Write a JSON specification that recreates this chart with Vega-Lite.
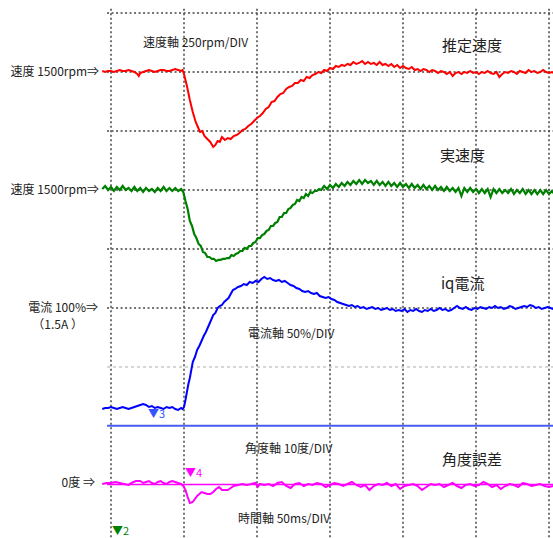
{
  "$schema": "https://vega.github.io/schema/vega-lite/v6.json",
  "width": 553,
  "height": 538,
  "autosize": {"type": "none"},
  "padding": 0,
  "background": "white",
  "config": {"view": {"stroke": null}, "font": "Noto Sans CJK JP"},
  "datasets": {
    "gridT": [{"t":0},{"t":50},{"t":100},{"t":150},{"t":200},{"t":250},{"t":300}],
    "gridV": [{"v":9},{"v":8},{"v":7},{"v":6},{"v":5},{"v":4}],
    "red": [
      {"t":-6,"v":8.017},{"t":-4,"v":8.000},{"t":-2,"v":8.017},{"t":0,"v":8.017},{"t":2,"v":8.000},{"t":4,"v":8.017},{"t":6,"v":8.034},{"t":8,"v":8.017},{"t":10,"v":8.017},{"t":12,"v":8.034},{"t":14,"v":8.017},{"t":16,"v":8.000},{"t":18,"v":7.966},{"t":19,"v":7.932},{"t":20,"v":7.983},{"t":22,"v":8.000},{"t":24,"v":8.017},{"t":26,"v":8.034},{"t":28,"v":8.017},{"t":30,"v":8.000},{"t":32,"v":8.017},{"t":34,"v":8.034},{"t":36,"v":8.034},{"t":38,"v":8.017},{"t":40,"v":8.017},{"t":42,"v":8.034},{"t":44,"v":8.051},{"t":46,"v":8.034},{"t":48,"v":8.017},{"t":49,"v":8.034},
      {"t":50,"v":7.966},{"t":52,"v":7.763},{"t":54,"v":7.525},{"t":56,"v":7.322},{"t":58,"v":7.153},{"t":59.5,"v":7.068},{"t":61,"v":6.983},{"t":62.5,"v":7.000},{"t":64,"v":6.915},{"t":66,"v":6.864},{"t":68,"v":6.814},{"t":70,"v":6.729},{"t":71.5,"v":6.763},{"t":73,"v":6.831},{"t":74.5,"v":6.814},{"t":76,"v":6.898},{"t":78,"v":6.847},{"t":80,"v":6.881},{"t":82,"v":6.864},{"t":84,"v":6.915},{"t":86,"v":6.932},{"t":88,"v":6.966},{"t":90,"v":7.017},{"t":92,"v":7.034},{"t":94,"v":7.085},{"t":96,"v":7.119},{"t":98,"v":7.169},{"t":100,"v":7.220},{"t":102,"v":7.254},{"t":104,"v":7.305},{"t":106,"v":7.373},{"t":108,"v":7.407},{"t":110,"v":7.492},{"t":112,"v":7.508},{"t":114,"v":7.576},{"t":116,"v":7.627},{"t":118,"v":7.644},{"t":120,"v":7.712},{"t":122,"v":7.746},{"t":124,"v":7.763},{"t":126,"v":7.814},{"t":128,"v":7.814},{"t":130,"v":7.864},{"t":132,"v":7.847},{"t":134,"v":7.915},{"t":136,"v":7.898},{"t":138,"v":7.949},{"t":140,"v":7.966},{"t":142,"v":8.000},{"t":144,"v":7.983},{"t":146,"v":8.034},{"t":148,"v":8.017},{"t":150,"v":8.068},{"t":152,"v":8.051},{"t":154,"v":8.102},{"t":156,"v":8.085},{"t":158,"v":8.119},{"t":160,"v":8.102},{"t":162,"v":8.136},{"t":164,"v":8.119},{"t":166,"v":8.169},{"t":168,"v":8.136},{"t":170,"v":8.153},{"t":172,"v":8.186},{"t":174,"v":8.136},{"t":176,"v":8.169},{"t":178,"v":8.136},{"t":180,"v":8.153},{"t":182,"v":8.119},{"t":184,"v":8.169},{"t":186,"v":8.119},{"t":188,"v":8.136},{"t":190,"v":8.102},{"t":192,"v":8.136},{"t":194,"v":8.085},{"t":196,"v":8.119},{"t":198,"v":8.068},{"t":200,"v":8.102},{"t":202,"v":8.068},{"t":204,"v":8.051},{"t":206,"v":8.085},{"t":208,"v":8.034},{"t":210,"v":8.051},{"t":212,"v":8.017},{"t":214,"v":8.051},{"t":216,"v":8.034},{"t":218,"v":8.000},{"t":220,"v":8.034},{"t":222,"v":8.017},{"t":224,"v":7.983},{"t":226,"v":8.017},{"t":228,"v":8.000},{"t":230,"v":7.966},{"t":232,"v":8.000},{"t":234,"v":7.932},{"t":236,"v":7.983},{"t":238,"v":8.000},{"t":240,"v":7.966},{"t":242,"v":8.000},{"t":244,"v":7.983},{"t":246,"v":8.017},{"t":248,"v":7.983},{"t":250,"v":8.000},{"t":252,"v":7.966},{"t":254,"v":8.000},{"t":256,"v":7.983},{"t":258,"v":8.017},{"t":260,"v":7.983},{"t":262,"v":7.966},{"t":264,"v":8.000},{"t":266,"v":7.915},{"t":268,"v":7.966},{"t":270,"v":8.000},{"t":272,"v":7.983},{"t":274,"v":8.017},{"t":276,"v":8.000},{"t":278,"v":7.966},{"t":280,"v":8.017},{"t":282,"v":8.000},{"t":284,"v":7.983},{"t":286,"v":8.034},{"t":288,"v":8.000},{"t":290,"v":8.017},{"t":292,"v":7.983},{"t":294,"v":8.000},{"t":296,"v":8.034},{"t":298,"v":8.000},{"t":300,"v":7.983},{"t":302,"v":8.000},{"t":303,"v":7.983}
    ],
    "green": [
      {"t":-6,"v":6.017},{"t":-4,"v":6.068},{"t":-2,"v":6.000},{"t":0,"v":6.051},{"t":2,"v":5.983},{"t":4,"v":6.051},{"t":6,"v":6.000},{"t":8,"v":6.068},{"t":10,"v":6.000},{"t":12,"v":6.034},{"t":14,"v":5.983},{"t":16,"v":6.051},{"t":18,"v":5.983},{"t":20,"v":6.034},{"t":22,"v":5.966},{"t":24,"v":6.034},{"t":26,"v":5.983},{"t":28,"v":6.017},{"t":30,"v":5.966},{"t":32,"v":6.034},{"t":34,"v":5.983},{"t":36,"v":6.051},{"t":38,"v":5.983},{"t":40,"v":6.034},{"t":42,"v":5.983},{"t":44,"v":6.034},{"t":46,"v":5.983},{"t":48,"v":6.017},{"t":49,"v":5.983},
      {"t":49.5,"v":5.966},{"t":51,"v":5.814},{"t":52.5,"v":5.678},{"t":54,"v":5.475},{"t":55.5,"v":5.390},{"t":57,"v":5.254},{"t":58.5,"v":5.186},{"t":60,"v":5.085},{"t":61.5,"v":5.051},{"t":63,"v":4.949},{"t":64.5,"v":4.932},{"t":66,"v":4.864},{"t":67.5,"v":4.864},{"t":69,"v":4.831},{"t":70.5,"v":4.831},{"t":72,"v":4.797},{"t":73.5,"v":4.814},{"t":75,"v":4.814},{"t":76.5,"v":4.831},{"t":78,"v":4.831},{"t":79.5,"v":4.847},{"t":81,"v":4.847},{"t":82.5,"v":4.898},{"t":84,"v":4.881},{"t":85.5,"v":4.915},{"t":87,"v":4.932},{"t":88.5,"v":4.966},{"t":90,"v":4.966},{"t":91.5,"v":5.017},{"t":93,"v":5.000},{"t":94.5,"v":5.051},{"t":96,"v":5.051},{"t":97.5,"v":5.102},{"t":99,"v":5.119},{"t":100.5,"v":5.186},{"t":102,"v":5.186},{"t":103.5,"v":5.237},{"t":105,"v":5.254},{"t":106.5,"v":5.305},{"t":108,"v":5.322},{"t":109.5,"v":5.390},{"t":111,"v":5.390},{"t":112.5,"v":5.441},{"t":114,"v":5.458},{"t":115.5,"v":5.542},{"t":117,"v":5.542},{"t":118.5,"v":5.610},{"t":120,"v":5.610},{"t":121.5,"v":5.678},{"t":123,"v":5.695},{"t":124.5,"v":5.746},{"t":126,"v":5.763},{"t":127.5,"v":5.831},{"t":129,"v":5.814},{"t":130.5,"v":5.881},{"t":132,"v":5.864},{"t":133.5,"v":5.932},{"t":135,"v":5.898},{"t":136.5,"v":5.966},{"t":138,"v":5.949},{"t":139.5,"v":5.983},{"t":141,"v":5.983},{"t":142.5,"v":6.017},{"t":144,"v":6.000},
      {"t":146,"v":6.068},{"t":148,"v":6.017},{"t":150,"v":6.085},{"t":152,"v":6.034},{"t":154,"v":6.102},{"t":156,"v":6.051},{"t":158,"v":6.119},{"t":160,"v":6.068},{"t":162,"v":6.136},{"t":164,"v":6.085},{"t":166,"v":6.153},{"t":168,"v":6.102},{"t":170,"v":6.169},{"t":172,"v":6.102},{"t":174,"v":6.169},{"t":176,"v":6.119},{"t":178,"v":6.153},{"t":180,"v":6.085},{"t":182,"v":6.153},{"t":184,"v":6.085},{"t":186,"v":6.136},{"t":188,"v":6.068},{"t":190,"v":6.136},{"t":192,"v":6.068},{"t":194,"v":6.119},{"t":196,"v":6.051},{"t":198,"v":6.119},{"t":200,"v":6.051},{"t":202,"v":6.102},{"t":204,"v":6.034},{"t":206,"v":6.102},{"t":208,"v":6.034},{"t":210,"v":6.085},{"t":212,"v":6.017},{"t":214,"v":6.085},{"t":216,"v":6.017},{"t":218,"v":6.068},{"t":220,"v":6.000},{"t":222,"v":6.068},{"t":224,"v":6.000},{"t":226,"v":6.051},{"t":228,"v":5.983},{"t":230,"v":6.051},{"t":232,"v":5.983},{"t":234,"v":6.034},{"t":236,"v":5.966},{"t":238,"v":6.034},{"t":240,"v":5.898},{"t":242,"v":6.034},{"t":244,"v":5.966},{"t":246,"v":6.034},{"t":248,"v":5.966},{"t":250,"v":6.017},{"t":252,"v":5.949},{"t":254,"v":6.017},{"t":256,"v":5.949},{"t":258,"v":6.017},{"t":260,"v":5.881},{"t":262,"v":6.017},{"t":264,"v":5.949},{"t":266,"v":6.017},{"t":268,"v":5.949},{"t":270,"v":6.000},{"t":272,"v":5.949},{"t":274,"v":6.017},{"t":276,"v":5.932},{"t":278,"v":6.000},{"t":280,"v":5.949},{"t":282,"v":6.017},{"t":284,"v":5.932},{"t":286,"v":6.000},{"t":288,"v":5.932},{"t":290,"v":6.000},{"t":292,"v":5.932},{"t":294,"v":6.000},{"t":296,"v":5.932},{"t":298,"v":6.000},{"t":300,"v":5.932},{"t":302,"v":5.983},{"t":303,"v":5.949}
    ],
    "blue": [
      {"t":-6,"v":2.288},{"t":-4,"v":2.305},{"t":-2,"v":2.305},{"t":0,"v":2.322},{"t":2,"v":2.305},{"t":4,"v":2.288},{"t":6,"v":2.305},{"t":8,"v":2.322},{"t":10,"v":2.305},{"t":12,"v":2.288},{"t":14,"v":2.305},{"t":16,"v":2.322},{"t":18,"v":2.339},{"t":20,"v":2.356},{"t":22,"v":2.373},{"t":24,"v":2.356},{"t":26,"v":2.322},{"t":28,"v":2.339},{"t":30,"v":2.305},{"t":32,"v":2.322},{"t":34,"v":2.305},{"t":36,"v":2.288},{"t":38,"v":2.322},{"t":40,"v":2.305},{"t":42,"v":2.322},{"t":44,"v":2.288},{"t":46,"v":2.271},{"t":48,"v":2.305},{"t":49,"v":2.288},
      {"t":50,"v":2.322},{"t":51,"v":2.441},{"t":52,"v":2.576},{"t":53,"v":2.712},{"t":54,"v":2.814},{"t":55,"v":2.949},{"t":56,"v":3.085},{"t":57.5,"v":3.169},{"t":59,"v":3.288},{"t":60.5,"v":3.356},{"t":62,"v":3.441},{"t":63.5,"v":3.525},{"t":65,"v":3.593},{"t":66.5,"v":3.678},{"t":68,"v":3.763},{"t":70,"v":3.881},{"t":71.5,"v":3.915},{"t":73,"v":4.000},{"t":74.5,"v":4.034},{"t":76,"v":4.051},{"t":77.5,"v":4.102},{"t":79,"v":4.136},{"t":80.5,"v":4.169},{"t":82,"v":4.237},{"t":83.5,"v":4.305},{"t":85,"v":4.322},{"t":87,"v":4.356},{"t":89,"v":4.373},{"t":91,"v":4.407},{"t":93,"v":4.390},{"t":95,"v":4.441},{"t":97,"v":4.424},{"t":99,"v":4.458},{"t":101,"v":4.441},{"t":103,"v":4.492},{"t":105,"v":4.525},{"t":107,"v":4.492},{"t":109,"v":4.508},{"t":111,"v":4.475},{"t":113,"v":4.458},{"t":115,"v":4.475},{"t":117,"v":4.441},{"t":119,"v":4.458},{"t":121,"v":4.424},{"t":123,"v":4.390},{"t":125,"v":4.373},{"t":127,"v":4.339},{"t":129,"v":4.322},{"t":131,"v":4.288},{"t":133,"v":4.271},{"t":135,"v":4.288},{"t":137,"v":4.254},{"t":139,"v":4.237},{"t":141,"v":4.254},{"t":143,"v":4.203},{"t":145,"v":4.186},{"t":147,"v":4.169},{"t":149,"v":4.186},{"t":151,"v":4.153},{"t":153,"v":4.136},{"t":155,"v":4.102},{"t":157,"v":4.085},{"t":159,"v":4.068},{"t":161,"v":4.051},{"t":163,"v":4.034},{"t":165,"v":4.051},{"t":167,"v":4.017},{"t":169,"v":4.034},{"t":171,"v":4.000},{"t":173,"v":4.017},{"t":175,"v":3.983},{"t":177,"v":4.000},{"t":179,"v":4.017},{"t":181,"v":3.983},{"t":183,"v":4.000},{"t":185,"v":3.966},{"t":187,"v":3.983},{"t":189,"v":4.000},{"t":191,"v":3.966},{"t":193,"v":3.983},{"t":195,"v":3.949},{"t":197,"v":3.966},{"t":199,"v":3.949},{"t":201,"v":3.983},{"t":203,"v":3.932},{"t":205,"v":3.966},{"t":207,"v":3.949},{"t":209,"v":3.983},{"t":211,"v":3.949},{"t":213,"v":3.932},{"t":215,"v":3.966},{"t":217,"v":3.949},{"t":219,"v":3.983},{"t":221,"v":3.949},{"t":223,"v":3.966},{"t":225,"v":4.000},{"t":227,"v":3.966},{"t":229,"v":3.983},{"t":231,"v":3.949},{"t":233,"v":3.966},{"t":235,"v":4.000},{"t":237,"v":4.034},{"t":239,"v":4.000},{"t":241,"v":3.983},{"t":243,"v":4.017},{"t":245,"v":3.983},{"t":247,"v":3.966},{"t":249,"v":4.000},{"t":251,"v":3.983},{"t":253,"v":4.017},{"t":255,"v":4.000},{"t":257,"v":3.983},{"t":259,"v":4.017},{"t":261,"v":4.000},{"t":263,"v":4.034},{"t":265,"v":4.000},{"t":267,"v":4.017},{"t":269,"v":3.983},{"t":271,"v":4.000},{"t":273,"v":4.034},{"t":275,"v":4.017},{"t":277,"v":3.983},{"t":279,"v":4.000},{"t":281,"v":4.017},{"t":283,"v":4.034},{"t":285,"v":4.017},{"t":287,"v":4.051},{"t":289,"v":4.034},{"t":291,"v":4.000},{"t":293,"v":4.017},{"t":295,"v":3.983},{"t":297,"v":4.000},{"t":299,"v":4.017},{"t":301,"v":4.000},{"t":303,"v":3.983}
    ],
    "magenta": [
      {"t":-6,"v":1.017},{"t":-3,"v":1.034},{"t":0,"v":1.034},{"t":3,"v":1.051},{"t":6,"v":1.034},{"t":9,"v":1.017},{"t":12,"v":1.000},{"t":14,"v":1.034},{"t":17,"v":1.068},{"t":20,"v":1.068},{"t":22,"v":1.034},{"t":24,"v":1.051},{"t":26,"v":1.068},{"t":28,"v":1.034},{"t":30,"v":1.017},{"t":32,"v":1.051},{"t":34,"v":1.068},{"t":36,"v":1.034},{"t":38,"v":1.017},{"t":40,"v":1.051},{"t":42,"v":1.068},{"t":44,"v":1.051},{"t":46,"v":1.034},{"t":48,"v":1.017},
      {"t":49.5,"v":0.983},{"t":51,"v":0.915},{"t":52.5,"v":0.797},{"t":54,"v":0.695},{"t":56,"v":0.712},{"t":59,"v":0.814},{"t":62,"v":0.881},{"t":64,"v":0.864},{"t":66,"v":0.847},{"t":68,"v":0.847},{"t":70,"v":0.881},{"t":72,"v":0.932},{"t":74,"v":0.966},{"t":76,"v":0.915},{"t":78,"v":0.915},{"t":80,"v":0.915},{"t":82,"v":0.949},{"t":84,"v":0.983},{"t":87,"v":1.000},{"t":90,"v":1.017},{"t":93,"v":1.000},{"t":96,"v":1.017},{"t":99,"v":1.034},{"t":100.5,"v":0.966},{"t":102,"v":1.017},{"t":105,"v":1.000},{"t":108,"v":1.017},{"t":111,"v":0.983},{"t":114,"v":1.034},{"t":117,"v":1.051},{"t":120,"v":0.983},{"t":123,"v":0.949},{"t":126,"v":1.017},{"t":129,"v":1.034},{"t":132,"v":0.983},{"t":135,"v":1.017},{"t":138,"v":1.000},{"t":141,"v":1.034},{"t":144,"v":1.017},{"t":147,"v":0.966},{"t":150,"v":1.000},{"t":153,"v":1.034},{"t":156,"v":1.017},{"t":159,"v":0.983},{"t":162,"v":1.017},{"t":165,"v":1.051},{"t":168,"v":1.000},{"t":171,"v":0.966},{"t":174,"v":1.000},{"t":177,"v":0.915},{"t":180,"v":0.983},{"t":183,"v":1.017},{"t":186,"v":1.000},{"t":189,"v":1.034},{"t":192,"v":0.983},{"t":195,"v":1.017},{"t":198,"v":0.932},{"t":201,"v":0.983},{"t":204,"v":1.000},{"t":207,"v":1.017},{"t":210,"v":0.983},{"t":213,"v":0.915},{"t":216,"v":0.966},{"t":219,"v":1.017},{"t":222,"v":1.000},{"t":225,"v":1.017},{"t":228,"v":0.966},{"t":231,"v":1.000},{"t":234,"v":1.034},{"t":237,"v":0.983},{"t":240,"v":0.949},{"t":243,"v":1.000},{"t":246,"v":1.017},{"t":249,"v":0.983},{"t":252,"v":1.000},{"t":255,"v":1.051},{"t":258,"v":1.017},{"t":261,"v":0.966},{"t":264,"v":1.000},{"t":267,"v":0.932},{"t":270,"v":0.983},{"t":273,"v":1.017},{"t":276,"v":1.000},{"t":279,"v":0.966},{"t":282,"v":1.034},{"t":285,"v":1.017},{"t":288,"v":0.983},{"t":291,"v":1.000},{"t":294,"v":1.017},{"t":297,"v":0.983},{"t":300,"v":0.966},{"t":303,"v":0.983}
    ],
    "leftLabels": [
      {"t":-8.2,"v":8,"text":"速度 1500rpm⇒"},
      {"t":-8.2,"v":6,"text":"速度 1500rpm⇒"},
      {"t":-8.9,"v":4,"text":"電流 100%⇒"},
      {"t":-19.2,"v":3.712,"text":"（1.5A ）"},
      {"t":-11,"v":1.034,"text":"0度 ⇒"}
    ],
    "scaleLabels": [
      {"t":21.9,"v":8.492,"text":"速度軸 250rpm/DIV"},
      {"t":93.8,"v":3.559,"text":"電流軸 50%/DIV"},
      {"t":91.8,"v":1.610,"text":"角度軸 10度/DIV"},
      {"t":87,"v":0.424,"text":"時間軸 50ms/DIV"}
    ],
    "names": [
      {"t":226.7,"v":8.441,"text":"推定速度"},
      {"t":225.3,"v":6.576,"text":"実速度"},
      {"t":226,"v":4.407,"text":"iq電流"},
      {"t":226.7,"v":1.424,"text":"角度誤差"}
    ],
    "markers": [
      {"t":25.3,"v":2.186,"text":"▼3","s":"iq電流"},
      {"t":50.7,"v":1.186,"text":"▼4","s":"角度誤差"},
      {"t":0.7,"v":0.2,"text":"▼2","s":"実速度"}
    ]
  },
  "layer": [
    {
      "data": {"name": "gridT"},
      "mark": {"type": "rule", "color": "#444", "strokeWidth": 1.5, "strokeDash": [2, 2.5]},
      "encoding": {
        "x": {"field": "t", "type": "quantitative", "scale": {"domain": [-76.03, 302.74], "nice": false, "zero": false}, "axis": null},
        "y": {"datum": 9.07, "type": "quantitative", "scale": {"domain": [0.1017, 9.2203], "nice": false, "zero": false}, "axis": null},
        "y2": {"datum": 0.1017}
      }
    },
    {
      "data": {"name": "gridV"},
      "mark": {"type": "rule", "color": "#444", "strokeWidth": 1.5, "strokeDash": [2, 2.5]},
      "encoding": {
        "y": {"field": "v", "type": "quantitative", "scale": {"domain": [0.1017, 9.2203], "nice": false, "zero": false}, "axis": null},
        "x": {"datum": -2.7, "type": "quantitative", "scale": {"domain": [-76.03, 302.74], "nice": false, "zero": false}, "axis": null},
        "x2": {"datum": 302.74}
      }
    },
    {
      "data": {"values": [{"v": 3}]},
      "mark": {"type": "rule", "color": "#aaaaaa", "strokeWidth": 1, "strokeDash": [3, 3]},
      "encoding": {
        "y": {"field": "v", "type": "quantitative", "scale": {"domain": [0.1017, 9.2203], "nice": false, "zero": false}, "axis": null},
        "x": {"datum": -2.7, "type": "quantitative", "scale": {"domain": [-76.03, 302.74], "nice": false, "zero": false}, "axis": null},
        "x2": {"datum": 302.74}
      }
    },
    {
      "data": {"values": [{"v": 2.005}]},
      "mark": {"type": "rule", "color": "#4a5cf0", "strokeWidth": 2},
      "encoding": {
        "y": {"field": "v", "type": "quantitative", "scale": {"domain": [0.1017, 9.2203], "nice": false, "zero": false}, "axis": null},
        "x": {"datum": -2.7, "type": "quantitative", "scale": {"domain": [-76.03, 302.74], "nice": false, "zero": false}, "axis": null},
        "x2": {"datum": 302.74}
      }
    },
    {
      "data": {"values": [{"v": 1.01}]},
      "mark": {"type": "rule", "color": "#ff00ff", "strokeWidth": 1.5},
      "encoding": {
        "y": {"field": "v", "type": "quantitative", "scale": {"domain": [0.1017, 9.2203], "nice": false, "zero": false}, "axis": null},
        "x": {"datum": -2.7, "type": "quantitative", "scale": {"domain": [-76.03, 302.74], "nice": false, "zero": false}, "axis": null},
        "x2": {"datum": 302.74}
      }
    },
    {
      "data": {"name": "red"},
      "mark": {"type": "line", "color": "#ff0000", "strokeWidth": 2, "clip": true},
      "encoding": {
        "x": {"field": "t", "type": "quantitative", "scale": {"domain": [-76.03, 302.74], "nice": false, "zero": false}, "axis": null},
        "y": {"field": "v", "type": "quantitative", "scale": {"domain": [0.1017, 9.2203], "nice": false, "zero": false}, "axis": null}
      }
    },
    {
      "data": {"name": "green"},
      "mark": {"type": "line", "color": "#008000", "strokeWidth": 2.2, "clip": true},
      "encoding": {
        "x": {"field": "t", "type": "quantitative", "scale": {"domain": [-76.03, 302.74], "nice": false, "zero": false}, "axis": null},
        "y": {"field": "v", "type": "quantitative", "scale": {"domain": [0.1017, 9.2203], "nice": false, "zero": false}, "axis": null}
      }
    },
    {
      "data": {"name": "blue"},
      "mark": {"type": "line", "color": "#0000ff", "strokeWidth": 2, "clip": true},
      "encoding": {
        "x": {"field": "t", "type": "quantitative", "scale": {"domain": [-76.03, 302.74], "nice": false, "zero": false}, "axis": null},
        "y": {"field": "v", "type": "quantitative", "scale": {"domain": [0.1017, 9.2203], "nice": false, "zero": false}, "axis": null}
      }
    },
    {
      "data": {"name": "magenta"},
      "mark": {"type": "line", "color": "#ff00ff", "strokeWidth": 2, "clip": true},
      "encoding": {
        "x": {"field": "t", "type": "quantitative", "scale": {"domain": [-76.03, 302.74], "nice": false, "zero": false}, "axis": null},
        "y": {"field": "v", "type": "quantitative", "scale": {"domain": [0.1017, 9.2203], "nice": false, "zero": false}, "axis": null}
      }
    },
    {
      "data": {"name": "leftLabels"},
      "mark": {"type": "text", "align": "right", "baseline": "middle", "fontSize": 12, "color": "#222222"},
      "encoding": {
        "x": {"field": "t", "type": "quantitative", "scale": {"domain": [-76.03, 302.74], "nice": false, "zero": false}, "axis": null},
        "y": {"field": "v", "type": "quantitative", "scale": {"domain": [0.1017, 9.2203], "nice": false, "zero": false}, "axis": null},
        "text": {"field": "text"}
      }
    },
    {
      "data": {"name": "scaleLabels"},
      "mark": {"type": "text", "align": "left", "baseline": "middle", "fontSize": 12, "color": "#222222"},
      "encoding": {
        "x": {"field": "t", "type": "quantitative", "scale": {"domain": [-76.03, 302.74], "nice": false, "zero": false}, "axis": null},
        "y": {"field": "v", "type": "quantitative", "scale": {"domain": [0.1017, 9.2203], "nice": false, "zero": false}, "axis": null},
        "text": {"field": "text"}
      }
    },
    {
      "data": {"name": "names"},
      "mark": {"type": "text", "align": "left", "baseline": "middle", "fontSize": 15, "color": "#222222"},
      "encoding": {
        "x": {"field": "t", "type": "quantitative", "scale": {"domain": [-76.03, 302.74], "nice": false, "zero": false}, "axis": null},
        "y": {"field": "v", "type": "quantitative", "scale": {"domain": [0.1017, 9.2203], "nice": false, "zero": false}, "axis": null},
        "text": {"field": "text"}
      }
    },
    {
      "data": {"name": "markers"},
      "mark": {"type": "text", "align": "left", "baseline": "middle", "fontSize": 11},
      "encoding": {
        "x": {"field": "t", "type": "quantitative", "scale": {"domain": [-76.03, 302.74], "nice": false, "zero": false}, "axis": null},
        "y": {"field": "v", "type": "quantitative", "scale": {"domain": [0.1017, 9.2203], "nice": false, "zero": false}, "axis": null},
        "text": {"field": "text"},
        "color": {"field": "s", "type": "nominal", "scale": {"domain": ["iq電流", "角度誤差", "実速度"], "range": ["#3355ff", "#ff00ff", "#008000"]}, "legend": null}
      }
    }
  ]
}
